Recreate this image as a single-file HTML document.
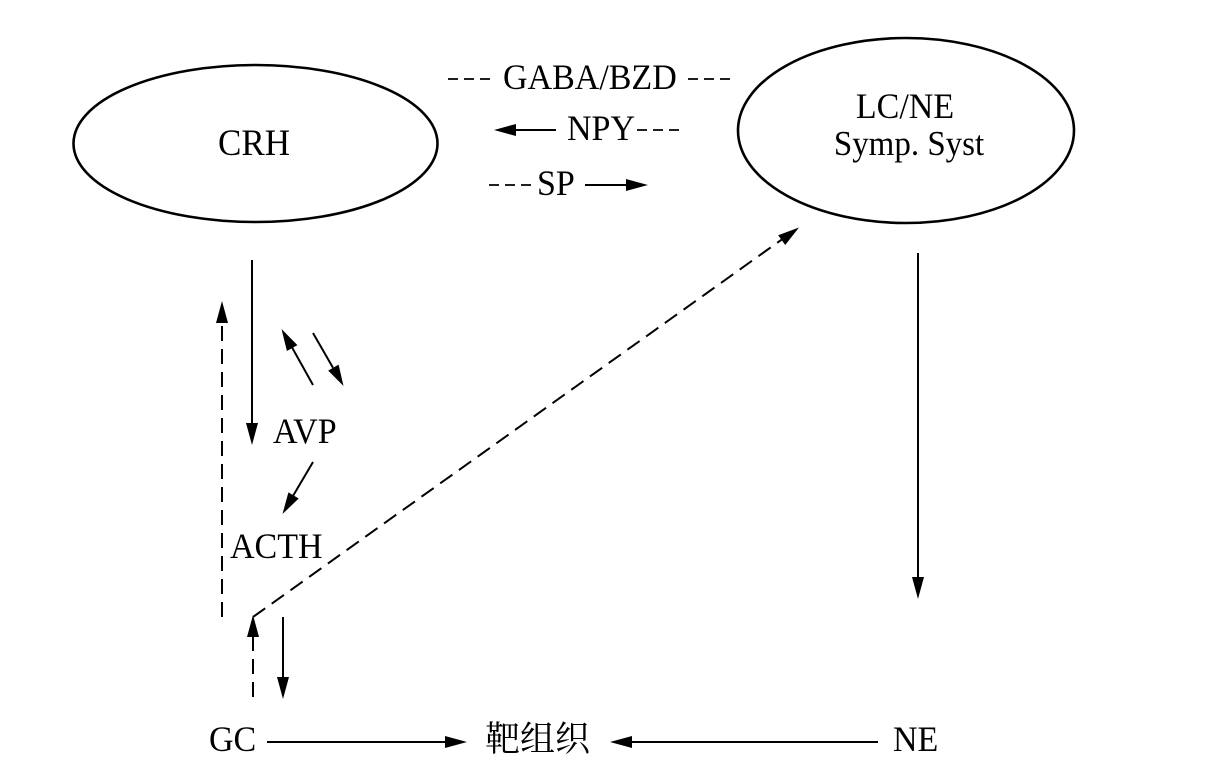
<!DOCTYPE html>
<html>
<head>
<meta charset="utf-8">
<style>
  html, body { margin: 0; padding: 0; background: #ffffff; }
  svg { display: block; }
  text { font-family: "Liberation Serif", "Noto Serif CJK SC", serif; fill: #000; }
</style>
</head>
<body>
<svg width="1206" height="774" viewBox="0 0 1206 774" xmlns="http://www.w3.org/2000/svg">
  <rect width="1206" height="774" fill="#fff"/>

  <!-- Ellipses -->
  <ellipse cx="255.5" cy="143.5" rx="182" ry="78.5" fill="none" stroke="#000" stroke-width="2.6"/>
  <ellipse cx="906" cy="130.5" rx="168" ry="92.5" fill="none" stroke="#000" stroke-width="2.6"/>

  <!-- Ellipse labels -->
  <g transform="translate(254,155) scale(1,1.07)"><text x="0" y="0" font-size="35" text-anchor="middle">CRH</text></g>
  <g transform="translate(905,118) scale(1,1.07)"><text x="0" y="0" font-size="34" text-anchor="middle">LC/NE</text></g>
  <g transform="translate(909,155) scale(1,1.07)"><text x="0" y="0" font-size="33" text-anchor="middle">Symp. Syst</text></g>

  <!-- Middle top dashes -->
  <g stroke="#000" stroke-width="1.8" stroke-dasharray="10,6" fill="none">
    <line x1="448" y1="79" x2="496" y2="79"/>
    <line x1="688" y1="79" x2="736" y2="79"/>
    <line x1="637" y1="130" x2="685" y2="130"/>
    <line x1="489" y1="185" x2="535" y2="185"/>
  </g>
  <g transform="translate(503,89) scale(1,1.07)"><text x="0" y="0" font-size="34">GABA/BZD</text></g>
  <g transform="translate(567,140) scale(1,1.07)"><text x="0" y="0" font-size="34">NPY</text></g>
  <g transform="translate(537,195) scale(1,1.07)"><text x="0" y="0" font-size="34">SP</text></g>

  <!-- Solid lines -->
  <g stroke="#000" stroke-width="2" fill="none">
    <line x1="556" y1="130" x2="514" y2="130"/>
    <line x1="585" y1="185" x2="628" y2="185"/>
    <line x1="252" y1="260" x2="252" y2="424"/>
    <line x1="313" y1="385" x2="292" y2="347.4"/>
    <line x1="313" y1="333" x2="333" y2="367.7"/>
    <line x1="313" y1="462" x2="293.1" y2="495.8"/>
    <line x1="283" y1="617" x2="283" y2="678"/>
    <line x1="918" y1="253" x2="918" y2="578"/>
    <line x1="267" y1="742" x2="446" y2="742"/>
    <line x1="878" y1="742" x2="631" y2="742"/>
  </g>

  <!-- Dashed lines -->
  <g stroke="#000" stroke-width="2" stroke-dasharray="15,8" fill="none">
    <line x1="222" y1="617" x2="222" y2="322"/>
    <line x1="253" y1="697" x2="253" y2="636"/>
    <line x1="253" y1="617" x2="781.7" y2="239.6"/>
  </g>

  <!-- Arrowheads -->
  <g fill="#000" stroke="none">
    <polygon points="494,130 516,124 516,136"/>
    <polygon points="648,185 626,179 626,191"/>
    <polygon points="252,445 246,423 258,423"/>
    <polygon points="222,301 216,323 228,323"/>
    <polygon points="281.5,329 297.4,345.1 286.9,351.0"/>
    <polygon points="343.5,386 338.6,364.6 328.2,370.6"/>
    <polygon points="282.5,514 298.7,498.5 288.4,492.4"/>
    <polygon points="799,227.5 785.2,245.0 778.2,235.3"/>
    <polygon points="253,615 247,637 259,637"/>
    <polygon points="283,699 277,677 289,677"/>
    <polygon points="918,599 912,577 924,577"/>
    <polygon points="467,742 445,736 445,748"/>
    <polygon points="610,742 632,736 632,748"/>
  </g>

  <!-- Column labels -->
  <g transform="translate(273,443) scale(1,1.07)"><text x="0" y="0" font-size="34">AVP</text></g>
  <g transform="translate(230,558) scale(1,1.07)"><text x="0" y="0" font-size="34">ACTH</text></g>

  <!-- Bottom row -->
  <g transform="translate(209,751) scale(1,1.07)"><text x="0" y="0" font-size="34">GC</text></g>
  <text x="485" y="751" font-size="35" style='font-family:"Noto Serif CJK SC","Noto Sans CJK SC",serif;'>靶组织</text>
  <g transform="translate(893,751) scale(1,1.07)"><text x="0" y="0" font-size="34">NE</text></g>
</svg>
</body>
</html>
